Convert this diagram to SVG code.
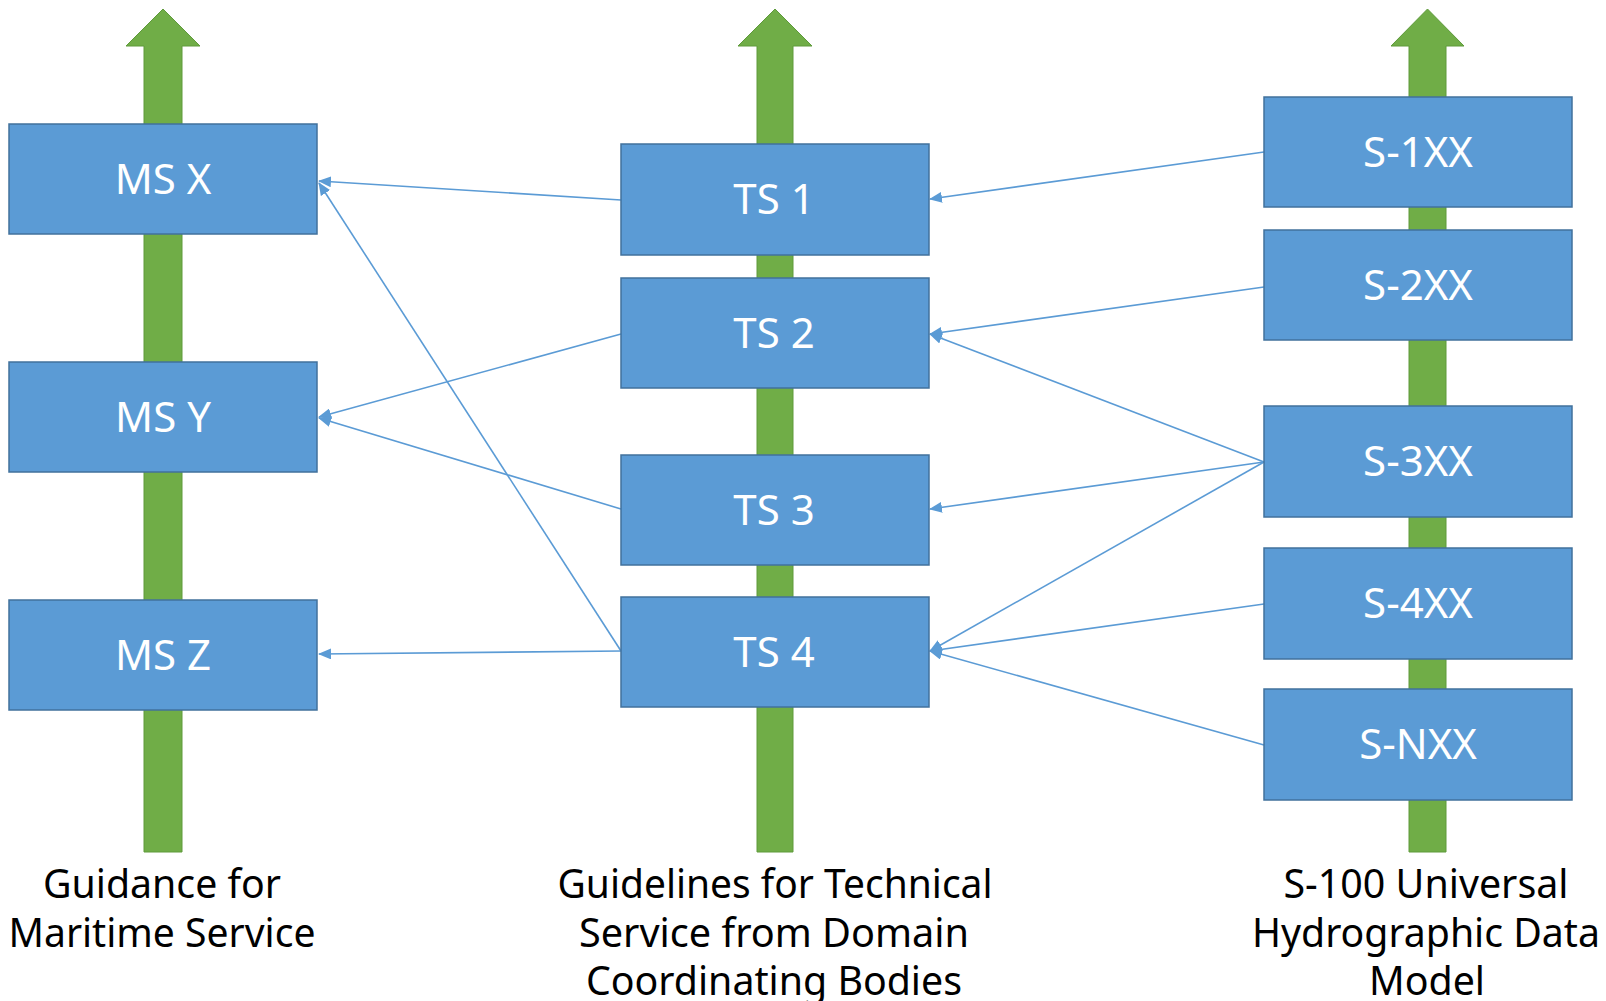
<svg xmlns="http://www.w3.org/2000/svg" width="1606" height="1001" viewBox="0 0 1606 1001">
<style>
.box{fill:#5B9BD5;stroke:#41719C;stroke-width:1.5}
.bt{font-family:"Noto Sans","Open Sans",sans-serif;font-size:42px;fill:#ffffff;text-anchor:middle}
.lbl{font-family:"Noto Sans","Open Sans",sans-serif;font-size:40px;fill:#000000;text-anchor:middle}
.garrow{fill:#70AD47;stroke:#5E9A3A;stroke-width:1}
.con{stroke:#5B9BD5;stroke-width:1.6;fill:none;marker-end:url(#ah)}
</style>
<defs>
<marker id="ah" markerWidth="13" markerHeight="11" refX="12" refY="5.5" orient="auto" markerUnits="userSpaceOnUse">
<path d="M0,0 L13,5.5 L0,11 z" fill="#5B9BD5"/>
</marker>
</defs>
<rect width="1606" height="1001" fill="#ffffff"/>
<g id="green-arrows">
<path class="garrow" d="M144,852 L144,46 L126,46 L163,9 L200,46 L182,46 L182,852 Z"/>
<path class="garrow" d="M757,852 L757,46 L738,46 L775,9 L812,46 L793,46 L793,852 Z"/>
<path class="garrow" d="M1409,852 L1409,46 L1391,46 L1427.5,9 L1464,46 L1446,46 L1446,852 Z"/>
</g>
<g id="connectors">
<line class="con" x1="621" y1="200" x2="319" y2="181"/>
<line class="con" x1="621" y1="651" x2="319" y2="183"/>
<line class="con" x1="621" y1="334" x2="319" y2="417"/>
<line class="con" x1="621" y1="509" x2="319" y2="418"/>
<line class="con" x1="621" y1="651" x2="319" y2="654"/>
<line class="con" x1="1264" y1="152" x2="930" y2="199"/>
<line class="con" x1="1264" y1="287" x2="930" y2="334"/>
<line class="con" x1="1264" y1="462" x2="930" y2="334"/>
<line class="con" x1="1264" y1="462" x2="930" y2="509"/>
<line class="con" x1="1264" y1="462" x2="930" y2="651"/>
<line class="con" x1="1264" y1="604" x2="930" y2="651"/>
<line class="con" x1="1264" y1="745" x2="930" y2="651"/>
</g>
<g id="ms-x"><rect class="box" x="9" y="124" width="308" height="110"/><text class="bt" x="163" y="194">MS X</text></g>
<g id="ms-y"><rect class="box" x="9" y="362" width="308" height="110"/><text class="bt" x="163" y="432">MS Y</text></g>
<g id="ms-z"><rect class="box" x="9" y="600" width="308" height="110"/><text class="bt" x="163" y="670">MS Z</text></g>
<g id="ts-1"><rect class="box" x="621" y="144" width="308" height="111"/><text class="bt" x="774" y="214">TS 1</text></g>
<g id="ts-2"><rect class="box" x="621" y="278" width="308" height="110"/><text class="bt" x="774" y="348">TS 2</text></g>
<g id="ts-3"><rect class="box" x="621" y="455" width="308" height="110"/><text class="bt" x="774" y="525">TS 3</text></g>
<g id="ts-4"><rect class="box" x="621" y="597" width="308" height="110"/><text class="bt" x="774" y="667">TS 4</text></g>
<g id="s-1xx"><rect class="box" x="1264" y="97" width="308" height="110"/><text class="bt" x="1418" y="167">S-1XX</text></g>
<g id="s-2xx"><rect class="box" x="1264" y="230" width="308" height="110"/><text class="bt" x="1418" y="300">S-2XX</text></g>
<g id="s-3xx"><rect class="box" x="1264" y="406" width="308" height="111"/><text class="bt" x="1418" y="476">S-3XX</text></g>
<g id="s-4xx"><rect class="box" x="1264" y="548" width="308" height="111"/><text class="bt" x="1418" y="618">S-4XX</text></g>
<g id="s-nxx"><rect class="box" x="1264" y="689" width="308" height="111"/><text class="bt" x="1418" y="759">S-NXX</text></g>
<g id="label-left">
<text class="lbl" x="162" y="898" textLength="238" lengthAdjust="spacingAndGlyphs">Guidance for</text>
<text class="lbl" x="162" y="947" textLength="307" lengthAdjust="spacingAndGlyphs">Maritime Service</text>
</g>
<g id="label-middle">
<text class="lbl" x="775" y="898" textLength="435" lengthAdjust="spacingAndGlyphs">Guidelines for Technical</text>
<text class="lbl" x="774" y="947" textLength="390" lengthAdjust="spacingAndGlyphs">Service from Domain</text>
<text class="lbl" x="774" y="995" textLength="376" lengthAdjust="spacingAndGlyphs">Coordinating Bodies</text>
</g>
<g id="label-right">
<text class="lbl" x="1426" y="898" textLength="285" lengthAdjust="spacingAndGlyphs">S-100 Universal</text>
<text class="lbl" x="1426" y="947" textLength="348" lengthAdjust="spacingAndGlyphs">Hydrographic Data</text>
<text class="lbl" x="1427" y="995" textLength="116" lengthAdjust="spacingAndGlyphs">Model</text>
</g>
</svg>
